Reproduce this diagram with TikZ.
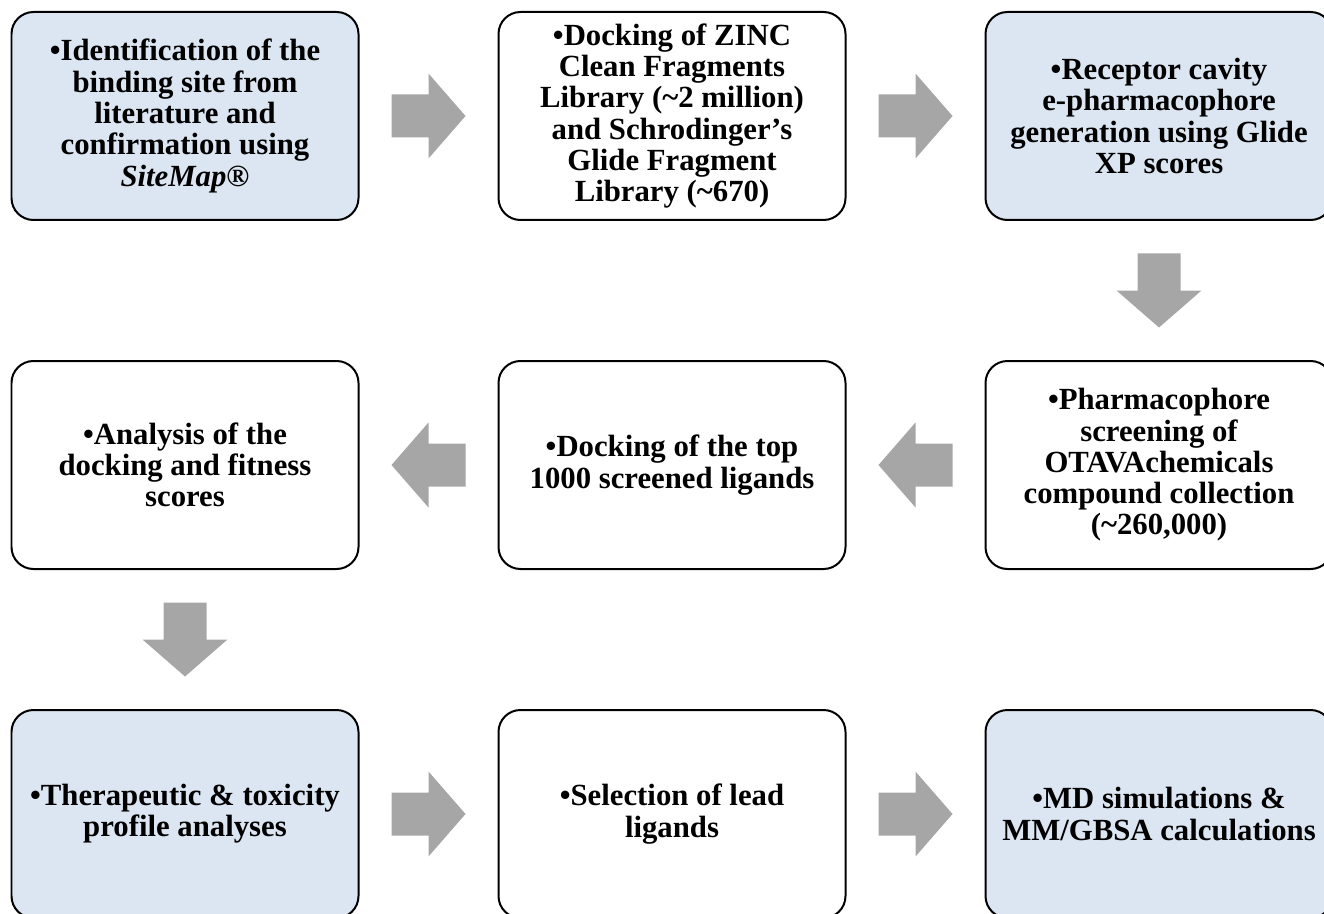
\documentclass[tikz,border=0pt]{standalone}
\usepackage{fontspec}
\setmainfont{Liberation Serif}
\usepackage{tikz}
\usetikzlibrary{calc}
\usetikzlibrary{positioning}
\definecolor{boxblue}{HTML}{DCE6F2}
\definecolor{arrowgray}{HTML}{A6A6A6}
\def\blockarrow(#1)(#2)(#3)% Syntax: (from anchor) (to anchor) (angle)
{ \path ($(#1)!.5!(#2)$) coordinate (mid);
  \fill[arrowgray,shift={(mid)},rotate=#3] (-.74,-.43) -- (0,-.43) -- (0,-.85) -- (.74,0) -- (0,.85) -- (0,.43) -- (-.74,.43) -- cycle; }
\tikzset{
	stepbox/.style={draw, line width=.04cm, rounded corners=.44cm, minimum width=6.94cm, minimum height=4.16cm, align=center, font=\fontsize{17.5}{17.8}\selectfont\bfseries},
	bluebox/.style={stepbox, fill=boxblue},
	whitebox/.style={stepbox, fill=white},
}
\begin{document}
\begin{tikzpicture}
		\useasboundingbox (0,0) rectangle (26.48,18.26);
		\node[bluebox] (ident) at (3.70,15.94) {\textbullet Identification of the\\binding site from\\literature and\\confirmation using\\\textit{SiteMap®}};
		\node[whitebox, right=2.76cm of ident] (dock) {\textbullet Docking of ZINC\\Clean Fragments\\Library (\textasciitilde 2 million)\\and Schrodinger’s\\Glide Fragment\\Library (\textasciitilde 670)};
		\node[bluebox, right=2.76cm of dock] (pharm) {\textbullet Receptor cavity\\e-pharmacophore\\generation using Glide\\XP scores};
		\node[whitebox, below=2.78cm of pharm] (screen) {\textbullet Pharmacophore\\screening of\\OTAVAchemicals\\compound collection\\(\textasciitilde 260,000)};
		\node[whitebox, below=2.78cm of dock] (topdock) {\textbullet Docking of the top\\1000 screened ligands};
		\node[whitebox, below=2.78cm of ident] (fitness) {\textbullet Analysis of the\\docking and fitness\\scores};
		\node[bluebox, below=2.78cm of fitness] (tox) {\textbullet Therapeutic \& toxicity\\profile analyses};
		\node[whitebox, below=2.78cm of topdock] (lead) {\textbullet Selection of lead\\ligands};
		\node[bluebox, below=2.78cm of screen] (md) {\textbullet MD simulations \&\\MM/GBSA calculations};
		\blockarrow(ident.east)(dock.west)(0);
		\blockarrow(dock.east)(pharm.west)(0);
		\blockarrow(pharm.south)(screen.north)(-90);
		\blockarrow(screen.west)(topdock.east)(180);
		\blockarrow(topdock.west)(fitness.east)(180);
		\blockarrow(fitness.south)(tox.north)(-90);
		\blockarrow(tox.east)(lead.west)(0);
		\blockarrow(lead.east)(md.west)(0);
	\end{tikzpicture}
\end{document}
